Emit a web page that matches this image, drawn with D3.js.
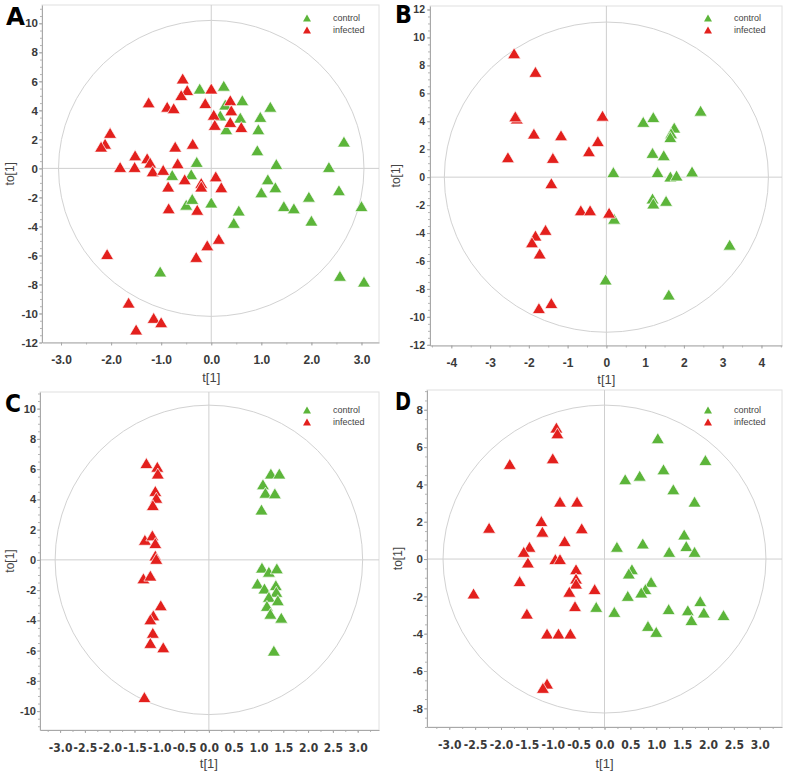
<!DOCTYPE html>
<html><head><meta charset="utf-8">
<script src="https://cdn.jsdelivr.net/npm/d3@7"></script>
<style>body{margin:0;background:#fff}svg{display:block}</style>
</head><body><svg id="c" width="787" height="775"></svg>
<script>
const seriesNames = ["control", "infected"];
const panelLetters = ["A", "B", "C", "D"];
const xTitle = "t[1]";
const yTitle = "to[1]";

const aControl = [[-0.23,5.5],[0.25,5.7],[0.28,4.4],[0.62,4.7],[0.18,3.65],[0.58,3.5],[0.3,2.7],[1.18,4.25],[0.98,3.55],[0.94,2.7],[0.92,1.25],[1.3,0.3],[2.35,0.1],[2.65,1.85],[-0.29,0.45],[-0.78,-0.45],[-0.4,-0.4],[1.13,-0.75],[1.0,-1.65],[1.28,-1.3],[2.55,-1.5],[-0.5,-2.5],[-0.38,-2.1],[0.0,-2.35],[1.45,-2.6],[1.65,-2.75],[1.95,-1.95],[2.0,-3.6],[3.0,-2.6],[0.55,-2.9],[0.45,-3.75],[-1.02,-7.1],[2.57,-7.4],[3.05,-7.8]];
const aInfected = [[-0.57,6.2],[-0.48,5.4],[-0.6,5.05],[0.0,5.5],[-1.25,4.55],[-0.88,4.25],[-0.75,4.15],[-0.12,4.5],[0.38,4.7],[0.4,4.0],[0.05,3.7],[0.07,3.0],[0.38,3.2],[0.6,2.85],[-2.02,2.45],[-2.12,1.7],[-2.2,1.5],[-0.72,1.5],[-0.37,1.7],[-1.52,0.9],[-1.28,0.7],[-1.22,0.4],[-1.82,0.1],[-1.53,0.1],[-1.17,-0.2],[-0.96,-0.1],[-0.67,0.35],[-0.53,-0.75],[-0.86,-1.25],[-0.2,-1.0],[-0.2,-1.25],[0.09,-0.55],[0.2,-1.3],[-0.85,-2.75],[-0.28,-2.85],[0.15,-4.85],[-0.08,-5.3],[-0.3,-6.1],[-2.08,-5.9],[-1.65,-9.25],[-1.15,-10.3],[-1.0,-10.6],[-1.5,-11.1]];

const bControl = [[2.43,4.76],[0.95,3.96],[1.21,4.3],[1.75,3.55],[1.67,3.14],[1.65,2.87],[1.19,1.74],[1.48,1.57],[0.18,0.36],[1.32,0.36],[1.65,0.05],[1.81,0.12],[2.21,0.41],[1.19,-1.52],[1.21,-1.88],[1.54,-1.69],[0.2,-2.97],[3.18,-4.83],[-0.02,-7.32],[1.61,-8.4]];
const bInfected = [[-2.38,8.87],[-1.83,7.54],[-2.31,4.2],[-2.35,4.35],[-1.87,3.12],[-1.17,3.0],[-2.54,1.43],[-1.38,1.38],[-1.42,-0.43],[-0.45,1.86],[-0.22,2.58],[-0.1,4.4],[-0.66,-2.37],[-0.42,-2.37],[0.07,-2.54],[-1.57,-3.77],[-1.83,-4.18],[-1.92,-4.66],[-1.72,-5.46],[-1.74,-9.37],[-1.42,-9.01]];

const cControl = [[1.25,5.71],[1.42,5.71],[1.09,5.0],[1.14,4.44],[1.33,4.4],[1.06,3.33],[1.07,-0.51],[1.21,-0.78],[1.37,-0.56],[0.98,-1.56],[1.12,-1.89],[1.35,-1.67],[1.36,-2.11],[1.21,-2.44],[1.39,-2.67],[1.17,-3.04],[1.24,-3.56],[1.46,-3.82],[1.31,-6.0]];
const cInfected = [[-1.26,6.4],[-1.04,6.16],[-1.03,5.71],[-1.08,4.56],[-1.06,4.11],[-1.13,3.62],[-1.29,1.33],[-1.14,1.62],[-1.08,1.11],[-1.08,0.29],[-1.06,0.07],[-1.32,-1.22],[-1.18,-1.04],[-0.97,-3.0],[-1.12,-3.67],[-1.18,-3.93],[-1.13,-4.82],[-1.18,-5.49],[-0.92,-5.78],[-1.3,-9.07]];

const dControl = [[1.03,6.48],[1.95,5.31],[1.14,4.81],[0.4,4.28],[0.68,4.47],[1.33,3.74],[1.74,3.08],[1.54,1.32],[1.58,0.7],[1.74,0.39],[1.25,0.39],[0.74,0.84],[0.24,0.66],[0.53,-0.54],[0.47,-0.77],[0.9,-1.22],[0.79,-1.61],[0.71,-1.79],[0.45,-1.97],[-0.16,-2.56],[0.19,-2.83],[1.24,-2.68],[1.61,-2.74],[1.68,-3.27],[1.85,-2.25],[1.92,-2.86],[2.3,-3.0],[0.84,-3.58],[1.0,-3.9]];
const dInfected = [[-0.93,7.05],[-0.91,6.74],[-1.0,5.4],[-1.83,5.1],[-0.86,3.08],[-0.53,3.08],[-2.23,1.68],[-1.22,2.04],[-1.2,1.47],[-0.44,1.65],[-0.77,0.97],[-1.45,0.66],[-1.56,0.39],[-1.48,-0.18],[-0.95,0.0],[-0.86,0.0],[-0.55,-0.54],[-0.55,-1.04],[-0.55,-1.31],[-1.64,-1.18],[-0.68,-1.75],[-0.19,-1.61],[-2.53,-1.84],[-1.5,-2.92],[-0.57,-2.52],[-1.11,-3.99],[-0.89,-3.99],[-0.66,-3.99],[-1.11,-6.67],[-1.19,-6.9]];

const aXTicks = [-3,-2,-1,0,1,2,3];
const aYTicks = [-12,-10,-8,-6,-4,-2,0,2,4,6,8,10];
const bXTicks = [-4,-3,-2,-1,0,1,2,3,4];
const bYTicks = [-12,-10,-8,-6,-4,-2,0,2,4,6,8,10,12];
const cXTicks = [-3,-2.5,-2,-1.5,-1,-0.5,0,0.5,1,1.5,2,2.5,3];
const cYTicks = [-10,-8,-6,-4,-2,0,2,4,6,8,10];
const dXTicks = [-3,-2.5,-2,-1.5,-1,-0.5,0,0.5,1,1.5,2,2.5,3];
const dYTicks = [-8,-6,-4,-2,0,2,4,6,8];

// Hotelling ellipse semi-axes (data units)
const aEllipse = [3.05, 10.2];
const bEllipse = [4.18, 11.1];
const cEllipse = [3.1, 10.23];
const dEllipse = [3.12, 8.25];

const colors = {control: "#5cb53a", infected: "#e3201d"};

const panels = [
  {letter: panelLetters[0], control: aControl, infected: aInfected, xTicks: aXTicks, yTicks: aYTicks, ell: aEllipse,
   left: 42, right: 379, top: 5, bottom: 342.5, xDomain: [-3.38, 3.35], yDomain: [-12, 11.26], xFmt: d => d.toFixed(1),
   xMinor: 0.5, yMinor: 0.5, narrow: false, yPad: 1, yFont: 11.5, xTitleY: 382, yTitleX: 14, legX: 307, legY: 18,
   letterX: 6, letterY: 25, letterW: 19},
  {letter: panelLetters[1], control: bControl, infected: bInfected, xTicks: bXTicks, yTicks: bYTicks, ell: bEllipse,
   left: 430, right: 782, top: 6, bottom: 345.5, xDomain: [-4.55, 4.53], yDomain: [-12.05, 12.25], xFmt: d => String(d),
   xMinor: 0.5, yMinor: 0.5, narrow: false, yPad: 2, yFont: 10.5, xTitleY: 384, yTitleX: 400, legX: 708, legY: 18,
   letterX: 395, letterY: 23, letterW: 17},
  {letter: panelLetters[2], control: cControl, infected: cInfected, xTicks: cXTicks, yTicks: cYTicks, ell: cEllipse,
   left: 40, right: 379, top: 392, bottom: 730, xDomain: [-3.405, 3.43], yDomain: [-11.25, 11.1], xFmt: d => d.toFixed(1),
   xMinor: 0.25, yMinor: 0.5, narrow: true, yPad: 1, yFont: 11, xTitleY: 768, yTitleX: 14, legX: 307, legY: 410,
   letterX: 5, letterY: 412, letterW: 16},
  {letter: panelLetters[3], control: dControl, infected: dInfected, xTicks: dXTicks, yTicks: dYTicks, ell: dEllipse,
   left: 427, right: 782, top: 390, bottom: 727, xDomain: [-3.43, 3.43], yDomain: [-9.0, 9.06], xFmt: d => d.toFixed(1),
   xMinor: 0.25, yMinor: 0.5, narrow: true, yPad: 1, yFont: 11.5, xTitleY: 768, yTitleX: 402, legX: 708, legY: 410,
   letterX: 395, letterY: 410, letterW: 16}
];

const svg = d3.select("#c");
const tickFont = "'Liberation Sans', Arial, sans-serif";
const narrowFont = "'Liberation Sans Narrow', 'DejaVu Sans Condensed', 'Liberation Sans', sans-serif";
const tri = (w, h) => `M0,${-h/2}L${w/2},${h/2}L${-w/2},${h/2}Z`;

panels.forEach(p => {
  const g = svg.append("g");
  const x = d3.scaleLinear().domain(p.xDomain).range([p.left, p.right]);
  const y = d3.scaleLinear().domain(p.yDomain).range([p.bottom, p.top]);

  g.append("rect").attr("x", p.left).attr("y", p.top)
    .attr("width", p.right - p.left).attr("height", p.bottom - p.top)
    .attr("fill", "none").attr("stroke", "#e0e0e0").attr("stroke-width", 1);

  g.append("line").attr("x1", x(0)).attr("x2", x(0)).attr("y1", p.top).attr("y2", p.bottom)
    .attr("stroke", "#cfcfcf").attr("stroke-width", 1);
  g.append("line").attr("x1", p.left).attr("x2", p.right).attr("y1", y(0)).attr("y2", y(0))
    .attr("stroke", "#cfcfcf").attr("stroke-width", 1);

  g.append("ellipse").attr("cx", x(0)).attr("cy", y(0))
    .attr("rx", x(p.ell[0]) - x(0)).attr("ry", y(0) - y(p.ell[1]))
    .attr("fill", "none").attr("stroke", "#d2d2d2").attr("stroke-width", 1);

  // minor ticks
  const xm = d3.range(Math.ceil(p.xDomain[0] / p.xMinor) * p.xMinor, p.xDomain[1], p.xMinor);
  const ym = d3.range(Math.ceil(p.yDomain[0] / p.yMinor) * p.yMinor, p.yDomain[1], p.yMinor);
  g.append("g").attr("transform", `translate(0,${p.bottom})`)
    .call(d3.axisBottom(x).tickValues(xm).tickFormat("").tickSize(2).tickSizeOuter(0))
    .call(a => { a.select(".domain").remove(); a.selectAll("line").attr("stroke", "#b5b5b5"); });
  g.append("g").attr("transform", `translate(${p.left},0)`)
    .call(d3.axisLeft(y).tickValues(ym).tickFormat("").tickSize(2).tickSizeOuter(0))
    .call(a => { a.select(".domain").remove(); a.selectAll("line").attr("stroke", "#b5b5b5"); });

  // major axes
  const xa = g.append("g").attr("transform", `translate(0,${p.bottom})`)
    .call(d3.axisBottom(x).tickValues(p.xTicks).tickFormat(p.xFmt).tickSize(3).tickSizeOuter(0).tickPadding(10));
  const ya = g.append("g").attr("transform", `translate(${p.left},0)`)
    .call(d3.axisLeft(y).tickValues(p.yTicks).tickFormat(d => String(d)).tickSize(3).tickSizeOuter(0).tickPadding(p.yPad));
  [xa, ya].forEach(a => {
    a.select(".domain").attr("stroke", "#a8a8a8");
    a.selectAll("line").attr("stroke", "#a8a8a8");
    a.selectAll("text").attr("fill", "#3a3a3a").attr("font-weight", "bold")
      .attr("font-family", tickFont).attr("font-size", 12);
  });
  ya.selectAll("text").attr("font-size", p.yFont);
  if (p.narrow) xa.selectAll("text").attr("font-family", narrowFont);

  // points
  seriesNames.forEach(s => {
    g.append("g").selectAll("path").data(p[s]).join("path")
      .attr("d", tri(13, 11))
      .attr("transform", d => `translate(${x(d[0])},${y(d[1])})`)
      .attr("fill", colors[s]).attr("stroke", "#fff").attr("stroke-width", 0.7)
      .attr("stroke-linejoin", "round");
  });

  // legend
  seriesNames.forEach((s, i) => {
    g.append("path").attr("d", tri(8, 7))
      .attr("transform", `translate(${p.legX},${p.legY + i * 12})`)
      .attr("fill", colors[s]);
    g.append("text").attr("x", p.legX + 26).attr("y", p.legY + i * 12 + 3)
      .attr("font-family", tickFont).attr("font-size", 9).attr("fill", "#444").text(s);
  });

  // titles
  g.append("text").attr("x", x(0)).attr("y", p.xTitleY).attr("text-anchor", "middle")
    .attr("font-family", tickFont).attr("font-size", 13).attr("fill", "#444").text(xTitle);
  g.append("text").attr("transform", `translate(${p.yTitleX},${(p.top + p.bottom) / 2}) rotate(-90)`)
    .attr("text-anchor", "middle").attr("font-family", tickFont).attr("font-size", 12)
    .attr("fill", "#444").text(yTitle);

  // panel letter
  g.append("text").attr("x", p.letterX).attr("y", p.letterY)
    .attr("font-family", "'DejaVu Sans', sans-serif").attr("font-weight", "bold")
    .attr("font-size", 25).attr("fill", "#000")
    .attr("textLength", p.letterW).attr("lengthAdjust", "spacingAndGlyphs").text(p.letter);
});
</script>
</body></html>
